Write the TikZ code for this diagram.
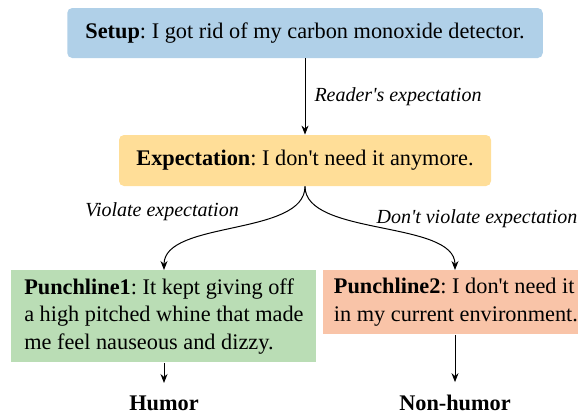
\documentclass[tikz,border=0pt]{standalone}
\usepackage{fontspec}
\setmainfont{Liberation Serif}[Ligatures=TeXOff]
\usetikzlibrary{arrows.meta}
\definecolor{setupblue}{HTML}{B0D0E8}
\definecolor{expectyellow}{HTML}{FFDE98}
\definecolor{punchgreen}{HTML}{BADDB5}
\definecolor{punchsalmon}{HTML}{F9C4A8}
\frenchspacing

\begin{document}
\begin{tikzpicture}[
    x=0.5pt, y=-0.5pt,
    font=\fontsize{11.15}{13.75}\selectfont,
    box/.style={minimum height=25pt, inner sep=0pt, align=center, rounded corners=2.5pt},
    punch/.style={anchor=north west, inner xsep=4.5pt, inner ysep=0pt, align=left},
    lbl/.style={font=\fontsize{10}{12}\selectfont\itshape, inner sep=0pt},
    outcome/.style={font=\fontsize{11.15}{13.75}\selectfont\bfseries, anchor=base, inner xsep=2pt, inner ysep=6pt},
    arr/.style={-{Stealth[length=4.5pt, width=3.5pt]}, line width=0.5pt}
]
\useasboundingbox (0,0) rectangle (578,412);
\node[box, fill=setupblue, minimum width=237.75pt] (setup) at (305,33) {\textbf{Setup}: I got rid of my carbon monoxide detector.};
\node[box, fill=expectyellow, minimum width=186pt, minimum height=25.5pt] (expect) at (305,160.5) {\textbf{Expectation}: I don't need it anymore.};
\node[punch, fill=punchgreen, minimum width=152.5pt, minimum height=46pt] (punch1) at (11,270) {\textbf{Punchline1}: It kept giving off\\a high pitched whine that made\\me feel nauseous and dizzy.};
\node[punch, fill=punchsalmon, inner xsep=5.25pt, minimum height=32pt] (punch2) at (323,270) {\textbf{Punchline2}: I don't need it\\in my current environment.};
\node[outcome] (humor) at (164,410) {Humor};
\node[outcome] (nonhumor) at (455,410) {Non-humor};
\node[lbl] (violate) at (162,212) {Violate expectation};
\node[lbl] (noviolate) at (477,219) {Don't violate expectation};

\draw[arr] (setup) -- node[lbl, anchor=west, xshift=4.5pt] (reader) {Reader's expectation} (expect);
\draw[arr] (expect.south) .. controls +(0,50) and +(0,-50) .. (humor |- punch1.north);
\draw[arr] (expect.south) .. controls +(0,50) and +(0,-50) .. (nonhumor |- punch2.north);
\draw[arr] (punch1.south -| humor) -- (humor);
\draw[arr] (punch2.south -| nonhumor) -- (nonhumor);
\end{tikzpicture}
\end{document}
